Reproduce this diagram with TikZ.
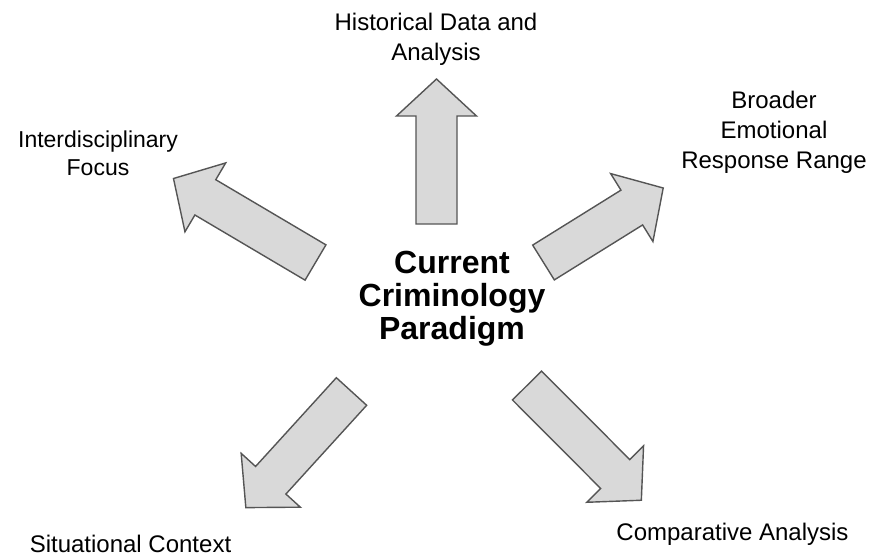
\documentclass[tikz,border=0pt]{standalone}
\usepackage{fontspec}
\setmainfont{Liberation Sans}

\definecolor{cinzaseta}{RGB}{217,217,217}
\definecolor{bordaseta}{RGB}{85,85,85}

\tikzset{
  seta/.style={fill=cinzaseta, draw=bordaseta, line width=1.4pt, line join=miter},
  rotulo/.style={align=center, inner sep=0pt, font=\fontsize{24}{30}\selectfont},
  titulo/.style={align=center, inner sep=0pt, font=\fontsize{32}{33}\selectfont\bfseries}
}

\begin{document}
\begin{tikzpicture}[x=1pt,y=-1pt]
\useasboundingbox (0,0) rectangle (881,557);

% setas
\foreach \x/\y/\ang/\len in {436.5/224/90/145, 315.5/262.5/149.4/165,
    543.5/262.5/31.9/141, 351.5/391.5/227.7/157, 527/385.5/-45.1/162} {
  \begin{scope}[shift={(\x,\y)}, rotate=\ang]
    \draw[seta] (0,-20.5) -- (\len-37,-20.5) -- (\len-37,-40) -- (\len,0)
      -- (\len-37,40) -- (\len-37,20.5) -- (0,20.5) -- cycle;
  \end{scope}
}

% centro
\node[titulo] (paradigma) at (452,299) {Current\\Criminology\\Paradigm};

% rótulos
\node[rotulo] (historico) at (436,39) {Historical Data and\\Analysis};
\node[rotulo, font=\fontsize{23}{28}\selectfont] (interdisc) at (98,153) {Interdisciplinary\\Focus};
\node[rotulo] (emocional) at (774,132) {Broader\\Emotional\\Response Range};
\node[rotulo, anchor=base] (situacional) at (130.5,552) {Situational Context};
\node[rotulo, anchor=base] (comparativa) at (732.5,540) {Comparative Analysis};

\end{tikzpicture}
\end{document}
